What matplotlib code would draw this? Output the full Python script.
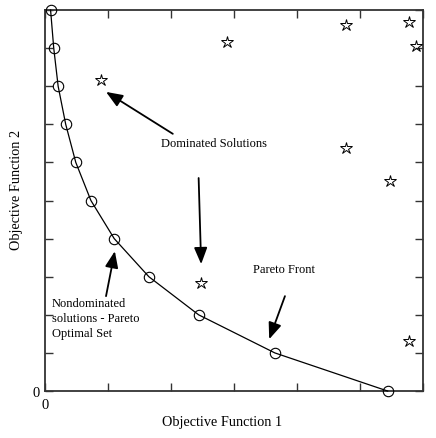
import matplotlib
matplotlib.use("Agg")
import matplotlib.pyplot as plt

# Pareto optimal set (circles)
front_f1 = [0.09, 0.14, 0.21, 0.33, 0.49, 0.73, 1.10, 1.65, 2.44, 3.65, 5.44]
front_f2 = [10.0, 9.0, 8.0, 7.0, 6.0, 5.0, 4.0, 3.0, 2.0, 1.0, 0.0]

# dominated solutions (stars)
dom_f1 = [0.89, 2.89, 4.78, 5.78, 5.89, 4.78, 5.48, 2.48, 5.78]
dom_f2 = [8.16, 9.16, 9.61, 9.69, 9.06, 6.38, 5.51, 2.83, 1.31]

xticks = [0, 1, 2, 3, 4, 5, 6]
yticks = [0, 1, 2, 3, 4, 5, 6, 7, 8, 9, 10]

plt.rcParams['font.family'] = ['Liberation Serif', 'DejaVu Serif']

fig = plt.figure(figsize=(4.36, 4.39), dpi=100)
ax = fig.add_axes([0.103, 0.107, 0.867, 0.868])

ax.plot(front_f1, front_f2, color='black', lw=0.9, marker='o', ms=7.5,
        mfc='none', mec='black', mew=0.8, clip_on=False, zorder=3)
ax.plot(dom_f1, dom_f2, ls='none', marker='*', ms=9, mfc='none',
        mec='black', mew=0.7, clip_on=False, zorder=3)

ax.set_xlim(0, 6)
ax.set_ylim(0, 10)
ax.set_xticks(xticks)
ax.set_yticks(yticks)
ax.set_xticklabels(['0'] + [''] * (len(xticks) - 1))
ax.set_yticklabels(['0'] + [''] * (len(yticks) - 1))
ax.tick_params(direction='in', length=6, width=1, top=True, right=True,
               labelsize=10.5, color='#333333')
ax.tick_params(axis='x', pad=5)
for s in ax.spines.values():
    s.set_linewidth(1.3)
    s.set_color('#333333')

ax.set_xlabel('Objective Function 1', fontsize=10.3)
ax.set_ylabel('Objective Function 2', fontsize=10.3)
ax.xaxis.set_label_coords(0.468, -0.062)
ax.yaxis.set_label_coords(-0.058, 0.53)

arrow = dict(arrowstyle='-|>,head_length=1.0,head_width=0.4', color='black',
             lw=1.3, shrinkA=0, shrinkB=0)
fs = 9

ax.text(2.69, 6.51, 'Dominated Solutions', fontsize=fs, ha='center', va='center')
ax.annotate('', xy=(0.97, 7.85), xytext=(2.03, 6.75), arrowprops=arrow)
ax.annotate('', xy=(2.48, 3.33), xytext=(2.44, 5.59), arrowprops=arrow)

ax.text(3.79, 3.20, 'Pareto Front', fontsize=fs, ha='center', va='center')
ax.annotate('', xy=(3.56, 1.36), xytext=(3.81, 2.49), arrowprops=arrow)

ax.text(0.11, 1.92, 'Nondominated\nsolutions - Pareto\nOptimal Set',
        fontsize=fs, ha='left', va='center', linespacing=1.3)
ax.annotate('', xy=(1.11, 3.67), xytext=(0.97, 2.49), arrowprops=arrow)

fig.savefig('out.png', dpi=100)
